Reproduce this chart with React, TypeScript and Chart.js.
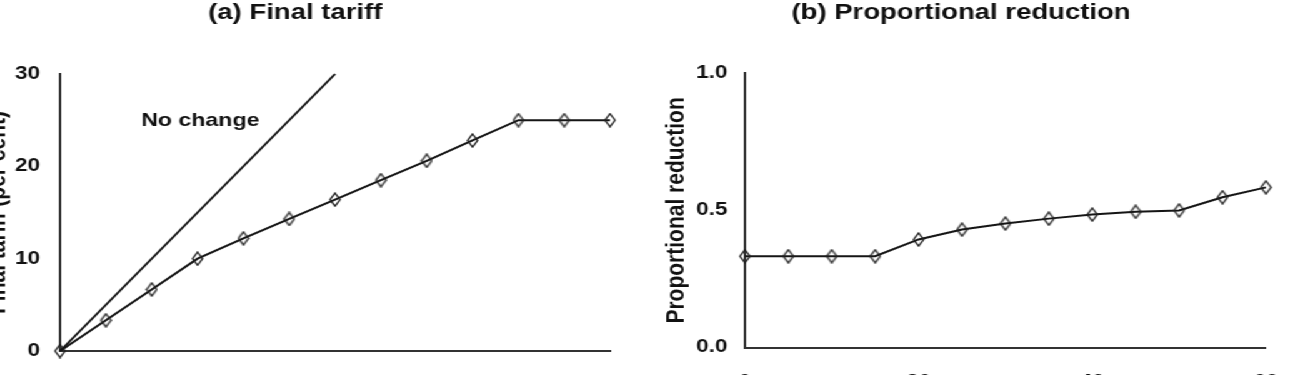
import { useEffect, useRef } from "react";
import { Chart, registerables } from "chart.js";

Chart.register(...registerables);

// Initial tariff (per cent) on the horizontal axis of both panels
const initialTariff = [0, 5, 10, 15, 20, 25, 30, 35, 40, 45, 50, 55, 60];
// Panel (a): final tariff after the cut
const finalTariff = [0, 3.33, 6.67, 10, 12.2, 14.3, 16.4, 18.5, 20.6, 22.8, 25, 25, 25];
// Panel (b): proportional reduction
const proportionalReduction = [0.333, 0.333, 0.333, 0.333, 0.394, 0.43, 0.452, 0.47, 0.485, 0.495, 0.5, 0.548, 0.584];
// 45-degree reference line
const noChangeX = [0, 30];
const noChangeY = [0, 30];
// Axis ticks
const tariffTicks = [0, 10, 20, 30];
const reductionTicks = [0, 0.5, 1];
const initialTicks = [0, 20, 40, 60];
// Annotation on panel (a)
const noChangeText = "No change";
const noChangeAt = { x: 15.3, y: 24.9 };

const FONT = "'Liberation Sans', Arial, Helvetica, sans-serif";
const INK = "#111";
const STRETCH = 1.25;
const CANVAS_H = 420;

function makeDiamond(): HTMLCanvasElement {
  const c = document.createElement("canvas");
  c.width = 10;
  c.height = 15;
  const g = c.getContext("2d")!;
  g.strokeStyle = "#222";
  g.lineWidth = 1.4;
  g.beginPath();
  g.moveTo(5, 1);
  g.lineTo(9, 7.5);
  g.lineTo(5, 14);
  g.lineTo(1, 7.5);
  g.closePath();
  g.stroke();
  return c;
}

type PanelOpts = {
  title: string;
  yTitle: string;
  datasets: any[];
  yMax: number;
  yTicks: number[];
  yFormat: (v: number) => string;
  axisWidth: number;
  axisHeight: number;
  padRight: number;
  titleBottom: number;
  yTickPad: number;
  xTickPad: number;
  plugins?: any[];
};

function panelConfig(p: PanelOpts): any {
  return {
    type: "line",
    data: { datasets: p.datasets },
    plugins: p.plugins || [],
    options: {
      responsive: false,
      animation: false,
      devicePixelRatio: 1,
      layout: { padding: { left: 0, right: p.padRight, top: 0, bottom: 0 } },
      plugins: {
        legend: { display: false },
        tooltip: { enabled: false },
        title: {
          display: true,
          text: p.title,
          color: INK,
          font: { family: FONT, size: 22, weight: "bold", lineHeight: 1.2 },
          padding: { top: 0, bottom: p.titleBottom },
        },
      },
      scales: {
        x: {
          type: "linear",
          min: 0,
          max: 60,
          grid: { display: false, drawTicks: false },
          border: { display: true, color: "#333", width: 2 },
          afterBuildTicks: (s: any) => {
            s.ticks = initialTicks.map((v) => ({ value: v }));
          },
          afterFit: (s: any) => {
            s.height = p.axisHeight;
            s.paddingLeft = 0;
            s.paddingRight = 0;
          },
          ticks: {
            color: INK,
            padding: p.xTickPad,
            maxRotation: 0,
            font: { family: FONT, size: 18, weight: "bold" },
          },
        },
        y: {
          type: "linear",
          min: 0,
          max: p.yMax,
          grid: { display: false, drawTicks: false },
          border: { display: true, color: "#333", width: 2 },
          afterBuildTicks: (s: any) => {
            s.ticks = p.yTicks.map((v) => ({ value: v }));
          },
          afterFit: (s: any) => {
            s.width = p.axisWidth;
            s.paddingTop = 0;
            s.paddingBottom = 0;
          },
          ticks: {
            color: INK,
            padding: p.yTickPad,
            font: { family: FONT, size: 18, weight: "bold" },
            callback: (v: any) => p.yFormat(Number(v)),
          },
          title: {
            display: true,
            text: p.yTitle,
            color: INK,
            padding: { top: 4, bottom: 4 },
            font: { family: FONT, size: 21, weight: "bold", lineHeight: 1.2 },
          },
        },
      },
    },
  };
}

const noChangeLabel = {
  id: "noChangeLabel",
  afterDatasetsDraw(chart: any) {
    const { ctx, scales } = chart;
    ctx.save();
    ctx.font = `bold 18.5px ${FONT}`;
    ctx.fillStyle = INK;
    ctx.textAlign = "center";
    ctx.textBaseline = "middle";
    ctx.fillText(
      noChangeText,
      scales.x.getPixelForValue(noChangeAt.x),
      scales.y.getPixelForValue(noChangeAt.y)
    );
    ctx.restore();
  },
};

export default function App() {
  const refA = useRef<HTMLCanvasElement>(null);
  const refB = useRef<HTMLCanvasElement>(null);

  useEffect(() => {
    const diamond = makeDiamond();
    const seriesStyle = {
      borderColor: "#151515",
      borderWidth: 2,
      pointStyle: diamond,
      pointRadius: 7,
      tension: 0,
      clip: false,
    };

    const chartA = new Chart(
      refA.current!,
      panelConfig({
        title: "(a) Final tariff",
        yTitle: "Final tariff (per cent)",
        yMax: 30,
        yTicks: tariffTicks,
        yFormat: (v) => String(v),
        axisWidth: 66,
        axisHeight: CANVAS_H - 351,
        padRight: 6.6,
        titleBottom: 47.6,
        yTickPad: 16,
        xTickPad: 25,
        plugins: [noChangeLabel],
        datasets: [
          {
            data: noChangeX.map((x, i) => ({ x, y: noChangeY[i] })),
            borderColor: "#151515",
            borderWidth: 2,
            pointRadius: 0,
            clip: false,
          },
          {
            ...seriesStyle,
            data: initialTariff.map((x, i) => ({ x, y: finalTariff[i] })),
          },
        ],
      })
    );

    const chartB = new Chart(
      refB.current!,
      panelConfig({
        title: "(b) Proportional reduction",
        yTitle: "Proportional reduction",
        yMax: 1,
        yTicks: reductionTicks,
        yFormat: (v) => v.toFixed(1),
        axisWidth: 71,
        axisHeight: CANVAS_H - 347.5,
        padRight: 12.2,
        titleBottom: 46.9,
        yTickPad: 14,
        xTickPad: 24,
        datasets: [
          {
            ...seriesStyle,
            data: initialTariff.map((x, i) => ({ x, y: proportionalReduction[i] })),
          },
        ],
      })
    );

    return () => {
      chartA.destroy();
      chartB.destroy();
    };
  }, []);

  return (
    <div style={{ position: "fixed", inset: 0, overflow: "hidden", background: "#fff" }}>
      <div
        style={{
          position: "absolute",
          left: 0,
          top: 0,
          width: 1289 / STRETCH,
          height: CANVAS_H,
          transform: `scaleX(${STRETCH})`,
          transformOrigin: "0 0",
        }}
      >
        <canvas
          ref={refA}
          width={515}
          height={CANVAS_H}
          style={{ position: "absolute", left: -18, top: 0 }}
        />
        <canvas
          ref={refB}
          width={500}
          height={CANVAS_H}
          style={{ position: "absolute", left: 525, top: 0 }}
        />
      </div>
    </div>
  );
}
